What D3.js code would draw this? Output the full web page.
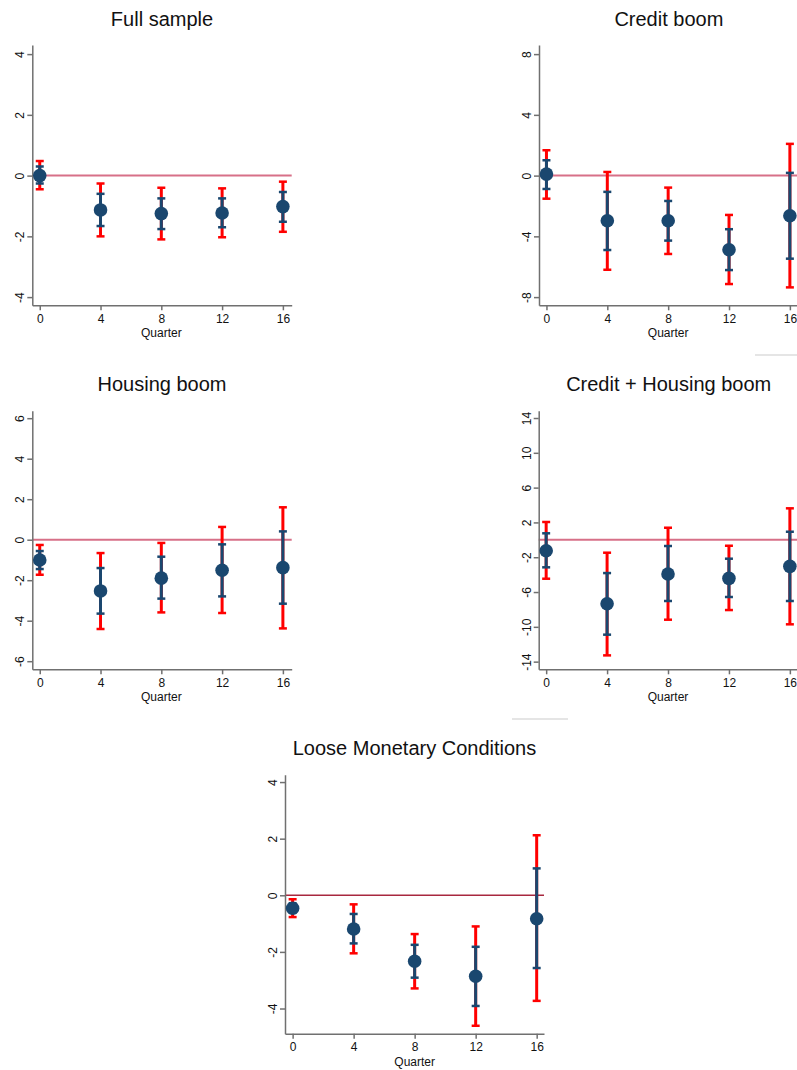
<!DOCTYPE html>
<html>
<head>
<meta charset="utf-8">
<script src="https://cdn.jsdelivr.net/npm/d3@7"></script>
<style>
  body { margin: 0; background: #fff; }
  svg { display: block; }
</style>
</head>
<body>
<svg width="797" height="1070"></svg>
<script>
const svg = d3.select("svg");

// x positions shared by every panel
const quarters = [0, 4, 8, 12, 16];

// Full sample
const fullEst  = [0.00, -1.13, -1.25, -1.23, -1.02];
const fullLo95 = [-0.45, -2.00, -2.10, -2.03, -1.85];
const fullHi95 = [0.48, -0.26, -0.40, -0.42, -0.20];
const fullLo90 = [-0.26, -1.66, -1.76, -1.70, -1.52];
const fullHi90 = [0.30, -0.60, -0.75, -0.75, -0.54];

// Credit boom
const creditEst  = [0.10, -2.97, -2.97, -4.88, -2.64];
const creditLo95 = [-1.52, -6.20, -5.16, -7.14, -7.36];
const creditHi95 = [1.67, 0.24, -0.79, -2.59, 2.09];
const creditLo90 = [-0.88, -4.90, -4.28, -6.22, -5.47];
const creditHi90 = [1.01, -1.07, -1.67, -3.53, 0.18];

// Housing boom
const housingEst  = [-1.00, -2.53, -1.90, -1.51, -1.38];
const housingLo95 = [-1.73, -4.41, -3.59, -3.62, -4.38];
const housingHi95 = [-0.26, -0.66, -0.16, 0.63, 1.60];
const housingLo90 = [-1.45, -3.65, -2.91, -2.80, -3.16];
const housingHi90 = [-0.56, -1.40, -0.84, -0.23, 0.41];

// Credit + Housing boom
const bothEst  = [-1.25, -7.34, -3.93, -4.43, -3.05];
const bothLo95 = [-4.47, -13.28, -9.18, -8.07, -9.71];
const bothHi95 = [2.05, -1.48, 1.39, -0.68, 3.62];
const bothLo90 = [-3.16, -10.90, -7.03, -6.57, -7.03];
const bothHi90 = [0.75, -3.82, -0.71, -2.17, 0.93];

// Loose Monetary Conditions
const looseEst  = [-0.46, -1.19, -2.33, -2.86, -0.83];
const looseLo95 = [-0.77, -2.05, -3.29, -4.61, -3.73];
const looseHi95 = [-0.14, -0.32, -1.37, -1.10, 2.12];
const looseLo90 = [-0.62, -1.70, -2.91, -3.91, -2.57];
const looseHi90 = [-0.28, -0.66, -1.75, -1.82, 0.95];

// tick labels
const ticksFull = [-4, -2, 0, 2, 4];
const ticksCredit = [-8, -4, 0, 4, 8];
const ticksHousing = [-6, -4, -2, 0, 2, 4, 6];
const ticksBoth = [-14, -10, -6, -2, 2, 6, 10, 14];
const ticksLoose = [-4, -2, 0, 2, 4];

const titles = ["Full sample", "Credit boom", "Housing boom", "Credit + Housing boom", "Loose Monetary Conditions"];

const FONT = "Liberation Sans, Arial, Helvetica, sans-serif";
const AXIS = "#707070";
const RED = "#ff0000";
const NAVY = "#1a476f";

// panel layout (pixel boxes of each plot region)
const panels = [
  { left: 32.3, right: 291.7, top: 45, bottom: 305.3, xDom: [-0.49, 16.58], yDom: [-4.27, 4.3],
    est: fullEst, lo95: fullLo95, hi95: fullHi95, lo90: fullLo90, hi90: fullHi90, ticks: ticksFull, zero: "#d77088", zw: 2 },
  { left: 539, right: 798.7, top: 45, bottom: 305.3, xDom: [-0.49, 16.58], yDom: [-8.54, 8.6],
    est: creditEst, lo95: creditLo95, hi95: creditHi95, lo90: creditLo90, hi90: creditHi90, ticks: ticksCredit, zero: "#d77088", zw: 2 },
  { left: 32.3, right: 291.7, top: 410.7, bottom: 669.3, xDom: [-0.49, 16.58], yDom: [-6.4, 6.37],
    est: housingEst, lo95: housingLo95, hi95: housingHi95, lo90: housingLo90, hi90: housingHi90, ticks: ticksHousing, zero: "#d77088", zw: 2 },
  { left: 538.7, right: 798.7, top: 410.7, bottom: 669.3, xDom: [-0.49, 16.58], yDom: [-14.88, 14.84],
    est: bothEst, lo95: bothLo95, hi95: bothHi95, lo90: bothLo90, hi90: bothHi90, ticks: ticksBoth, zero: "#d77088", zw: 2 },
  { left: 285, right: 544, top: 774.7, bottom: 1033.7, xDom: [-0.5, 16.48], yDom: [-4.89, 4.26],
    est: looseEst, lo95: looseLo95, hi95: looseHi95, lo90: looseLo90, hi90: looseHi90, ticks: ticksLoose, zero: "#a8283f", zw: 1.4 }
];

panels.forEach((p, i) => {
  const x = d3.scaleLinear().domain(p.xDom).range([p.left, p.right]);
  const y = d3.scaleLinear().domain(p.yDom).range([p.bottom, p.top]);
  const g = svg.append("g");

  // title
  g.append("text")
    .attr("x", (p.left + p.right) / 2)
    .attr("y", p.top - 19.5)
    .attr("text-anchor", "middle")
    .attr("font-family", FONT)
    .attr("font-size", "20px")
    .attr("fill", "#111")
    .text(titles[i]);

  // zero reference line
  g.append("line")
    .attr("x1", p.left).attr("x2", p.right)
    .attr("y1", y(0)).attr("y2", y(0))
    .attr("stroke", p.zero)
    .attr("stroke-width", p.zw);

  // y axis, labels turned on their side with a plain hyphen minus
  const ya = g.append("g")
    .attr("transform", `translate(${p.left},0)`)
    .call(d3.axisLeft(y).tickValues(p.ticks).tickSize(5).tickSizeOuter(0).tickFormat(d => String(d)));
  ya.selectAll("text")
    .attr("x", null).attr("dy", null)
    .attr("transform", "translate(-8,0) rotate(-90)")
    .attr("text-anchor", "middle")
    .attr("font-family", FONT)
    .attr("font-size", "12px")
    .attr("fill", "#111");

  // x axis
  const xa = g.append("g")
    .attr("transform", `translate(0,${p.bottom})`)
    .call(d3.axisBottom(x).tickValues(quarters).tickSize(5).tickSizeOuter(0));
  xa.selectAll("text")
    .attr("y", 9).attr("dy", "0.71em")
    .attr("font-family", FONT)
    .attr("font-size", "12px")
    .attr("fill", "#111");

  [ya, xa].forEach(a => {
    a.select(".domain").attr("stroke", AXIS).attr("stroke-width", 1.5);
    a.selectAll(".tick line").attr("stroke", AXIS).attr("stroke-width", 1.5);
  });

  g.append("text")
    .attr("x", x(8))
    .attr("y", p.bottom + 32)
    .attr("text-anchor", "middle")
    .attr("font-family", FONT)
    .attr("font-size", "12px")
    .attr("fill", "#111")
    .text("Quarter");

  // error bars: 95% in red, 90% in navy, with caps
  const bars = [
    { lo: p.lo95, hi: p.hi95, color: RED },
    { lo: p.lo90, hi: p.hi90, color: NAVY }
  ];
  bars.forEach(b => {
    const eb = g.append("g").selectAll("g")
      .data(quarters.map((q, j) => ({ q, lo: b.lo[j], hi: b.hi[j] })))
      .join("g");
    eb.append("line")
      .attr("x1", d => x(d.q)).attr("x2", d => x(d.q))
      .attr("y1", d => y(d.lo)).attr("y2", d => y(d.hi))
      .attr("stroke", b.color).attr("stroke-width", 3);
    ["lo", "hi"].forEach(k => {
      eb.append("line")
        .attr("x1", d => x(d.q) - 4).attr("x2", d => x(d.q) + 4)
        .attr("y1", d => y(d[k])).attr("y2", d => y(d[k]))
        .attr("stroke", b.color).attr("stroke-width", 2.5);
    });
  });

  // point estimates
  g.append("g").selectAll("circle")
    .data(quarters.map((q, j) => ({ q, v: p.est[j] })))
    .join("circle")
    .attr("cx", d => x(d.q))
    .attr("cy", d => y(d.v))
    .attr("r", 6.8)
    .attr("fill", NAVY);
});

// faint separator strokes left over in the original layout
svg.append("line").attr("x1", 755).attr("x2", 797).attr("y1", 355).attr("y2", 355)
  .attr("stroke", "#dcdcdc").attr("stroke-width", 1.5);
svg.append("line").attr("x1", 512).attr("x2", 568).attr("y1", 719).attr("y2", 719)
  .attr("stroke", "#dcdcdc").attr("stroke-width", 1.5);
</script>
</body>
</html>
